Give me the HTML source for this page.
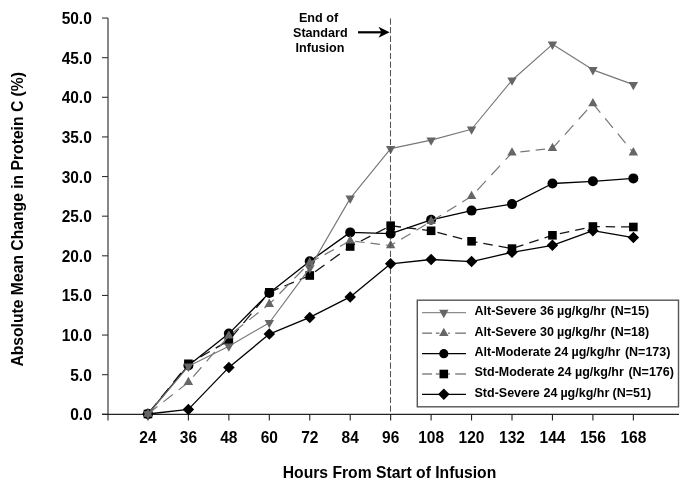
<!DOCTYPE html>
<html><head><meta charset="utf-8"><style>
html,body{margin:0;padding:0;background:#fff;}
body{width:685px;height:486px;overflow:hidden;}
svg{display:block;will-change:transform;}
text{font-family:"Liberation Sans",sans-serif;font-weight:bold;fill:#000;}
.t15{font-size:15.5px;}
.t155{font-size:15.7px;}
.t12{font-size:12.6px;}
.t125{font-size:12.5px;}
</style></head><body>
<svg width="685" height="486" viewBox="0 0 685 486">
<rect width="685" height="486" fill="#fff"/>
<line x1="108" y1="18" x2="108" y2="420.5" stroke="#606060" stroke-width="1.5"/>
<line x1="102" y1="414.30" x2="108" y2="414.30" stroke="#333" stroke-width="1.1"/>
<text transform="translate(91.8,420.30) scale(1,1.08)" text-anchor="end" class="t15">0.0</text>
<line x1="102" y1="374.68" x2="108" y2="374.68" stroke="#333" stroke-width="1.1"/>
<text transform="translate(91.8,380.68) scale(1,1.08)" text-anchor="end" class="t15">5.0</text>
<line x1="102" y1="335.05" x2="108" y2="335.05" stroke="#333" stroke-width="1.1"/>
<text transform="translate(91.8,341.05) scale(1,1.08)" text-anchor="end" class="t15">10.0</text>
<line x1="102" y1="295.43" x2="108" y2="295.43" stroke="#333" stroke-width="1.1"/>
<text transform="translate(91.8,301.43) scale(1,1.08)" text-anchor="end" class="t15">15.0</text>
<line x1="102" y1="255.80" x2="108" y2="255.80" stroke="#333" stroke-width="1.1"/>
<text transform="translate(91.8,261.80) scale(1,1.08)" text-anchor="end" class="t15">20.0</text>
<line x1="102" y1="216.18" x2="108" y2="216.18" stroke="#333" stroke-width="1.1"/>
<text transform="translate(91.8,222.18) scale(1,1.08)" text-anchor="end" class="t15">25.0</text>
<line x1="102" y1="176.55" x2="108" y2="176.55" stroke="#333" stroke-width="1.1"/>
<text transform="translate(91.8,182.55) scale(1,1.08)" text-anchor="end" class="t15">30.0</text>
<line x1="102" y1="136.93" x2="108" y2="136.93" stroke="#333" stroke-width="1.1"/>
<text transform="translate(91.8,142.93) scale(1,1.08)" text-anchor="end" class="t15">35.0</text>
<line x1="102" y1="97.30" x2="108" y2="97.30" stroke="#333" stroke-width="1.1"/>
<text transform="translate(91.8,103.30) scale(1,1.08)" text-anchor="end" class="t15">40.0</text>
<line x1="102" y1="57.68" x2="108" y2="57.68" stroke="#333" stroke-width="1.1"/>
<text transform="translate(91.8,63.68) scale(1,1.08)" text-anchor="end" class="t15">45.0</text>
<line x1="102" y1="18.05" x2="108" y2="18.05" stroke="#333" stroke-width="1.1"/>
<text transform="translate(91.8,24.05) scale(1,1.08)" text-anchor="end" class="t15">50.0</text>
<line x1="102" y1="414.30" x2="679" y2="414.30" stroke="#222" stroke-width="1.3"/>
<line x1="147.95" y1="414.30" x2="147.95" y2="420.5" stroke="#222" stroke-width="1.1"/>
<text transform="translate(147.95,443.0) scale(1,1.08)" text-anchor="middle" class="t15">24</text>
<line x1="188.40" y1="414.30" x2="188.40" y2="420.5" stroke="#222" stroke-width="1.1"/>
<text transform="translate(188.40,443.0) scale(1,1.08)" text-anchor="middle" class="t15">36</text>
<line x1="228.85" y1="414.30" x2="228.85" y2="420.5" stroke="#222" stroke-width="1.1"/>
<text transform="translate(228.85,443.0) scale(1,1.08)" text-anchor="middle" class="t15">48</text>
<line x1="269.30" y1="414.30" x2="269.30" y2="420.5" stroke="#222" stroke-width="1.1"/>
<text transform="translate(269.30,443.0) scale(1,1.08)" text-anchor="middle" class="t15">60</text>
<line x1="309.75" y1="414.30" x2="309.75" y2="420.5" stroke="#222" stroke-width="1.1"/>
<text transform="translate(309.75,443.0) scale(1,1.08)" text-anchor="middle" class="t15">72</text>
<line x1="350.20" y1="414.30" x2="350.20" y2="420.5" stroke="#222" stroke-width="1.1"/>
<text transform="translate(350.20,443.0) scale(1,1.08)" text-anchor="middle" class="t15">84</text>
<line x1="390.65" y1="414.30" x2="390.65" y2="420.5" stroke="#222" stroke-width="1.1"/>
<text transform="translate(390.65,443.0) scale(1,1.08)" text-anchor="middle" class="t15">96</text>
<line x1="431.10" y1="414.30" x2="431.10" y2="420.5" stroke="#222" stroke-width="1.1"/>
<text transform="translate(431.10,443.0) scale(1,1.08)" text-anchor="middle" class="t15">108</text>
<line x1="471.55" y1="414.30" x2="471.55" y2="420.5" stroke="#222" stroke-width="1.1"/>
<text transform="translate(471.55,443.0) scale(1,1.08)" text-anchor="middle" class="t15">120</text>
<line x1="512.00" y1="414.30" x2="512.00" y2="420.5" stroke="#222" stroke-width="1.1"/>
<text transform="translate(512.00,443.0) scale(1,1.08)" text-anchor="middle" class="t15">132</text>
<line x1="552.45" y1="414.30" x2="552.45" y2="420.5" stroke="#222" stroke-width="1.1"/>
<text transform="translate(552.45,443.0) scale(1,1.08)" text-anchor="middle" class="t15">144</text>
<line x1="592.90" y1="414.30" x2="592.90" y2="420.5" stroke="#222" stroke-width="1.1"/>
<text transform="translate(592.90,443.0) scale(1,1.08)" text-anchor="middle" class="t15">156</text>
<line x1="633.35" y1="414.30" x2="633.35" y2="420.5" stroke="#222" stroke-width="1.1"/>
<text transform="translate(633.35,443.0) scale(1,1.08)" text-anchor="middle" class="t15">168</text>
<polyline points="147.95,414.00 188.40,409.40 228.85,367.40 269.30,334.10 309.75,317.40 350.20,296.90 390.65,263.80 431.10,259.50 471.55,261.60 512.00,252.30 552.45,245.30 592.90,230.70 633.35,237.60" fill="none" stroke="#000" stroke-width="1.3" stroke-linejoin="round"/><path d="M147.95,408.25L153.70,414.00L147.95,419.75L142.20,414.00Z" fill="#000"/><path d="M188.40,403.65L194.15,409.40L188.40,415.15L182.65,409.40Z" fill="#000"/><path d="M228.85,361.65L234.60,367.40L228.85,373.15L223.10,367.40Z" fill="#000"/><path d="M269.30,328.35L275.05,334.10L269.30,339.85L263.55,334.10Z" fill="#000"/><path d="M309.75,311.65L315.50,317.40L309.75,323.15L304.00,317.40Z" fill="#000"/><path d="M350.20,291.15L355.95,296.90L350.20,302.65L344.45,296.90Z" fill="#000"/><path d="M390.65,258.05L396.40,263.80L390.65,269.55L384.90,263.80Z" fill="#000"/><path d="M431.10,253.75L436.85,259.50L431.10,265.25L425.35,259.50Z" fill="#000"/><path d="M471.55,255.85L477.30,261.60L471.55,267.35L465.80,261.60Z" fill="#000"/><path d="M512.00,246.55L517.75,252.30L512.00,258.05L506.25,252.30Z" fill="#000"/><path d="M552.45,239.55L558.20,245.30L552.45,251.05L546.70,245.30Z" fill="#000"/><path d="M592.90,224.95L598.65,230.70L592.90,236.45L587.15,230.70Z" fill="#000"/><path d="M633.35,231.85L639.10,237.60L633.35,243.35L627.60,237.60Z" fill="#000"/>
<line x1="147.95" y1="414.00" x2="188.40" y2="363.80" stroke="#151515" stroke-width="1.3" stroke-dasharray="12.07 7.58" stroke-dashoffset="18.36"/><line x1="188.40" y1="363.80" x2="228.85" y2="340.50" stroke="#151515" stroke-width="1.3" stroke-dasharray="10.85 6.81" stroke-dashoffset="3.81"/><line x1="228.85" y1="340.50" x2="269.30" y2="292.30" stroke="#151515" stroke-width="1.3" stroke-dasharray="12.27 7.70" stroke-dashoffset="17.17"/><line x1="269.30" y1="292.30" x2="309.75" y2="275.50" stroke="#151515" stroke-width="1.3" stroke-dasharray="10.18 6.39" stroke-dashoffset="0.16"/><line x1="309.75" y1="275.50" x2="350.20" y2="246.50" stroke="#151515" stroke-width="1.3" stroke-dasharray="11.57 7.26" stroke-dashoffset="12.30"/><line x1="350.20" y1="246.50" x2="390.65" y2="225.70" stroke="#151515" stroke-width="1.3" stroke-dasharray="10.57 6.63" stroke-dashoffset="5.12"/><line x1="390.65" y1="225.70" x2="431.10" y2="230.80" stroke="#151515" stroke-width="1.3" stroke-dasharray="9.47 5.95" stroke-dashoffset="14.51"/><line x1="431.10" y1="230.80" x2="471.55" y2="241.30" stroke="#151515" stroke-width="1.3" stroke-dasharray="9.71 6.10" stroke-dashoffset="9.25"/><line x1="471.55" y1="241.30" x2="512.00" y2="248.60" stroke="#151515" stroke-width="1.3" stroke-dasharray="9.55 6.00" stroke-dashoffset="3.56"/><line x1="512.00" y1="248.60" x2="552.45" y2="235.30" stroke="#151515" stroke-width="1.3" stroke-dasharray="9.90 6.21" stroke-dashoffset="14.05"/><line x1="552.45" y1="235.30" x2="592.90" y2="226.50" stroke="#151515" stroke-width="1.3" stroke-dasharray="9.62 6.04" stroke-dashoffset="8.08"/><line x1="592.90" y1="226.50" x2="633.35" y2="227.00" stroke="#151515" stroke-width="1.3" stroke-dasharray="9.40 5.90" stroke-dashoffset="2.45"/><rect x="143.65" y="409.70" width="8.6" height="8.6" fill="#000"/><rect x="184.10" y="359.50" width="8.6" height="8.6" fill="#000"/><rect x="224.55" y="336.20" width="8.6" height="8.6" fill="#000"/><rect x="265.00" y="288.00" width="8.6" height="8.6" fill="#000"/><rect x="305.45" y="271.20" width="8.6" height="8.6" fill="#000"/><rect x="345.90" y="242.20" width="8.6" height="8.6" fill="#000"/><rect x="386.35" y="221.40" width="8.6" height="8.6" fill="#000"/><rect x="426.80" y="226.50" width="8.6" height="8.6" fill="#000"/><rect x="467.25" y="237.00" width="8.6" height="8.6" fill="#000"/><rect x="507.70" y="244.30" width="8.6" height="8.6" fill="#000"/><rect x="548.15" y="231.00" width="8.6" height="8.6" fill="#000"/><rect x="588.60" y="222.20" width="8.6" height="8.6" fill="#000"/><rect x="629.05" y="222.70" width="8.6" height="8.6" fill="#000"/>
<polyline points="147.95,414.00 188.40,365.50 228.85,333.60 269.30,292.90 309.75,261.30 350.20,232.40 390.65,233.70 431.10,219.80 471.55,210.60 512.00,204.10 552.45,183.50 592.90,181.30 633.35,178.40" fill="none" stroke="#000" stroke-width="1.3" stroke-linejoin="round"/><circle cx="147.95" cy="414.00" r="5.0" fill="#000"/><circle cx="188.40" cy="365.50" r="5.0" fill="#000"/><circle cx="228.85" cy="333.60" r="5.0" fill="#000"/><circle cx="269.30" cy="292.90" r="5.0" fill="#000"/><circle cx="309.75" cy="261.30" r="5.0" fill="#000"/><circle cx="350.20" cy="232.40" r="5.0" fill="#000"/><circle cx="390.65" cy="233.70" r="5.0" fill="#000"/><circle cx="431.10" cy="219.80" r="5.0" fill="#000"/><circle cx="471.55" cy="210.60" r="5.0" fill="#000"/><circle cx="512.00" cy="204.10" r="5.0" fill="#000"/><circle cx="552.45" cy="183.50" r="5.0" fill="#000"/><circle cx="592.90" cy="181.30" r="5.0" fill="#000"/><circle cx="633.35" cy="178.40" r="5.0" fill="#000"/>
<line x1="147.95" y1="414.00" x2="188.40" y2="382.25" stroke="#777" stroke-width="1.2" stroke-dasharray="11.95 7.50" stroke-dashoffset="19.27"/><line x1="188.40" y1="382.25" x2="228.85" y2="335.75" stroke="#777" stroke-width="1.2" stroke-dasharray="12.46 7.82" stroke-dashoffset="12.87"/><line x1="228.85" y1="335.75" x2="269.30" y2="304.15" stroke="#777" stroke-width="1.2" stroke-dasharray="11.93 7.49" stroke-dashoffset="13.08"/><line x1="269.30" y1="304.15" x2="309.75" y2="262.65" stroke="#777" stroke-width="1.2" stroke-dasharray="13.13 8.24" stroke-dashoffset="6.79"/><line x1="309.75" y1="262.65" x2="350.20" y2="240.85" stroke="#777" stroke-width="1.2" stroke-dasharray="10.68 6.70" stroke-dashoffset="0.52"/><line x1="350.20" y1="240.85" x2="390.65" y2="245.55" stroke="#777" stroke-width="1.2" stroke-dasharray="9.46 5.94" stroke-dashoffset="10.38"/><line x1="390.65" y1="245.55" x2="431.10" y2="221.35" stroke="#777" stroke-width="1.2" stroke-dasharray="10.95 6.88" stroke-dashoffset="5.66"/><line x1="431.10" y1="221.35" x2="471.55" y2="196.35" stroke="#777" stroke-width="1.2" stroke-dasharray="11.05 6.94" stroke-dashoffset="17.29"/><line x1="471.55" y1="196.35" x2="512.00" y2="152.75" stroke="#777" stroke-width="1.2" stroke-dasharray="12.82 8.05" stroke-dashoffset="12.63"/><line x1="512.00" y1="152.75" x2="552.45" y2="148.35" stroke="#777" stroke-width="1.2" stroke-dasharray="9.46 5.93" stroke-dashoffset="7.00"/><line x1="552.45" y1="148.35" x2="592.90" y2="103.55" stroke="#777" stroke-width="1.2" stroke-dasharray="12.66 7.95" stroke-dashoffset="2.03"/><line x1="592.90" y1="103.55" x2="633.35" y2="152.65" stroke="#777" stroke-width="1.2" stroke-dasharray="12.18 7.64" stroke-dashoffset="0.53"/><path d="M143.25,416.77H152.65L147.95,408.47Z" fill="#666666"/><path d="M183.70,385.02H193.10L188.40,376.72Z" fill="#666666"/><path d="M224.15,338.52H233.55L228.85,330.22Z" fill="#666666"/><path d="M264.60,306.92H274.00L269.30,298.62Z" fill="#666666"/><path d="M305.05,265.42H314.45L309.75,257.12Z" fill="#666666"/><path d="M345.50,243.62H354.90L350.20,235.32Z" fill="#666666"/><path d="M385.95,248.32H395.35L390.65,240.02Z" fill="#666666"/><path d="M426.40,224.12H435.80L431.10,215.82Z" fill="#666666"/><path d="M466.85,199.12H476.25L471.55,190.82Z" fill="#666666"/><path d="M507.30,155.52H516.70L512.00,147.22Z" fill="#666666"/><path d="M547.75,151.12H557.15L552.45,142.82Z" fill="#666666"/><path d="M588.20,106.32H597.60L592.90,98.02Z" fill="#666666"/><path d="M628.65,155.42H638.05L633.35,147.12Z" fill="#666666"/>
<polyline points="147.95,414.00 188.40,366.35 228.85,346.15 269.30,322.75 309.75,268.15 350.20,198.35 390.65,148.65 431.10,140.15 471.55,129.25 512.00,80.25 552.45,44.35 592.90,69.85 633.35,84.65" fill="none" stroke="#777" stroke-width="1.15" stroke-linejoin="round"/><path d="M143.25,411.23H152.65L147.95,419.53Z" fill="#666666"/><path d="M183.70,363.58H193.10L188.40,371.88Z" fill="#666666"/><path d="M224.15,343.38H233.55L228.85,351.68Z" fill="#666666"/><path d="M264.60,319.98H274.00L269.30,328.28Z" fill="#666666"/><path d="M305.05,265.38H314.45L309.75,273.68Z" fill="#666666"/><path d="M345.50,195.58H354.90L350.20,203.88Z" fill="#666666"/><path d="M385.95,145.88H395.35L390.65,154.18Z" fill="#666666"/><path d="M426.40,137.38H435.80L431.10,145.68Z" fill="#666666"/><path d="M466.85,126.48H476.25L471.55,134.78Z" fill="#666666"/><path d="M507.30,77.48H516.70L512.00,85.78Z" fill="#666666"/><path d="M547.75,41.58H557.15L552.45,49.88Z" fill="#666666"/><path d="M588.20,67.08H597.60L592.90,75.38Z" fill="#666666"/><path d="M628.65,81.88H638.05L633.35,90.18Z" fill="#666666"/>
<line x1="390.5" y1="18.5" x2="390.5" y2="414" stroke="#555" stroke-width="1.05" stroke-dasharray="6.2 2.4" style="mix-blend-mode:darken"/>
<text x="318.5" y="22.0" text-anchor="middle" class="t12">End of</text>
<text x="320.3" y="37.0" text-anchor="middle" class="t12">Standard</text>
<text x="320.0" y="52.2" text-anchor="middle" class="t12">Infusion</text>
<line x1="358" y1="32.3" x2="384" y2="32.3" stroke="#000" stroke-width="2.2"/>
<path d="M389.6,32.3 L378.5,26.8 L381.5,32.3 L378.5,37.8 Z" fill="#000"/>
<text x="389.5" y="478.3" text-anchor="middle" class="t155">Hours From Start of Infusion</text>
<text transform="translate(23.1,219.3) rotate(-90)" x="0" y="0" text-anchor="middle" class="t155">Absolute Mean Change in Protein C (%)</text>
<rect x="417.3" y="300.2" width="261.2" height="106.6" fill="#fff" stroke="#555" stroke-width="1.4"/>
<line x1="422" y1="312.60" x2="466" y2="312.60" stroke="#8c8c8c" stroke-width="1.15"/>
<path d="M439.10,309.83H448.50L443.80,318.13Z" fill="#666666"/>
<text x="474.5" y="315.40" class="t125">Alt-Severe</text>
<text x="540.1" y="315.40" class="t125">36</text>
<text x="557.0" y="315.40" class="t125">µg/kg/hr</text>
<text x="610.5" y="315.40" class="t125">(N=15)</text>
<line x1="422.2" y1="333.20" x2="432.0" y2="333.20" stroke="#8c8c8c" stroke-width="1.6"/>
<line x1="435.8" y1="333.20" x2="439.5" y2="333.20" stroke="#8c8c8c" stroke-width="1.6"/>
<line x1="448" y1="333.20" x2="450" y2="333.20" stroke="#8c8c8c" stroke-width="1.6"/>
<line x1="455.2" y1="333.20" x2="466.0" y2="333.20" stroke="#8c8c8c" stroke-width="1.6"/>
<path d="M439.10,335.97H448.50L443.80,327.67Z" fill="#666666"/>
<text x="474.5" y="335.70" class="t125">Alt-Severe</text>
<text x="540.1" y="335.70" class="t125">30</text>
<text x="557.0" y="335.70" class="t125">µg/kg/hr</text>
<text x="610.5" y="335.70" class="t125">(N=18)</text>
<line x1="422" y1="353.70" x2="466" y2="353.70" stroke="#000" stroke-width="1.2"/>
<circle cx="443.80" cy="353.70" r="4.6" fill="#000"/>
<text x="474.5" y="356.00" class="t125">Alt-Moderate</text>
<text x="554.3" y="356.00" class="t125">24</text>
<text x="571.5" y="356.00" class="t125">µg/kg/hr</text>
<text x="624.9" y="356.00" class="t125">(N=173)</text>
<line x1="422.2" y1="374.00" x2="432.0" y2="374.00" stroke="#8c8c8c" stroke-width="1.6"/>
<line x1="435.8" y1="374.00" x2="439.5" y2="374.00" stroke="#8c8c8c" stroke-width="1.6"/>
<line x1="448" y1="374.00" x2="450" y2="374.00" stroke="#8c8c8c" stroke-width="1.6"/>
<line x1="455.2" y1="374.00" x2="466.0" y2="374.00" stroke="#8c8c8c" stroke-width="1.6"/>
<rect x="439.50" y="369.70" width="8.6" height="8.6" fill="#000"/>
<text x="474.5" y="376.30" class="t125">Std-Moderate</text>
<text x="557.5" y="376.30" class="t125">24</text>
<text x="575.0" y="376.30" class="t125">µg/kg/hr</text>
<text x="628.4" y="376.30" class="t125">(N=176)</text>
<line x1="422" y1="394.30" x2="466" y2="394.30" stroke="#000" stroke-width="1.2"/>
<path d="M443.80,388.55L449.55,394.30L443.80,400.05L438.05,394.30Z" fill="#000"/>
<text x="474.5" y="396.60" class="t125">Std-Severe</text>
<text x="543.5" y="396.60" class="t125">24</text>
<text x="560.4" y="396.60" class="t125">µg/kg/hr</text>
<text x="612.6" y="396.60" class="t125">(N=51)</text>
</svg>
</body></html>
